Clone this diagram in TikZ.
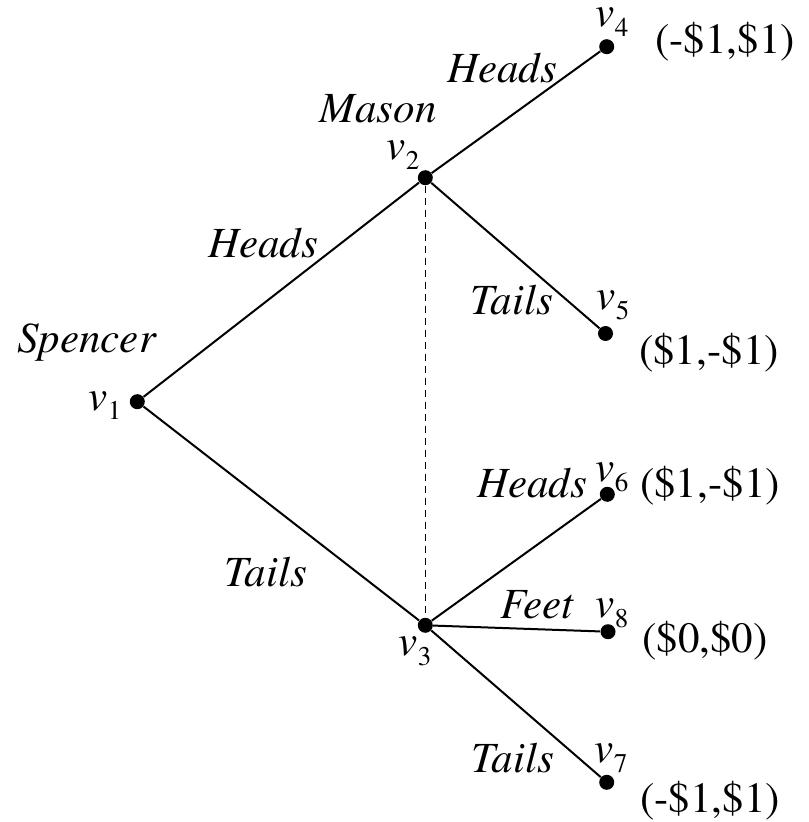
\documentclass[tikz,border=0pt]{standalone}
\usepackage[T1]{fontenc}
\usepackage{mathptmx}
\newcommand{\vsub}[1]{\textit{v}\raisebox{-5pt}{\fontsize{13.5}{14}\selectfont #1}}
\begin{document}
\begin{tikzpicture}[x=0.5pt,y=-0.5pt,
  dot/.style={circle,fill=black,inner sep=0pt,minimum size=7.5pt},
  edge/.style={line width=1pt},
  info/.style={line width=0.7pt,dash pattern=on 3.5pt off 2.5pt},
  lbl/.style={anchor=base,inner sep=0pt,font=\fontsize{21.5}{26}\selectfont}]
\useasboundingbox (0,0) rectangle (808,822);
% decision points and outcomes
\node[dot] (v1) at (137.3,401.7) {};
\node[dot] (v2) at (425.3,177.7) {};
\node[dot] (v3) at (425.3,625.3) {};
\node[dot] (v4) at (606.7,46.7) {};
\node[dot] (v5) at (605.5,333.5) {};
\node[dot] (v6) at (607.3,494.3) {};
\node[dot] (v8) at (608,631.7) {};
\node[dot] (v7) at (606.7,782.3) {};
% branches
\draw[edge] (v1) -- (v2);
\draw[edge] (v1) -- (v3);
\draw[edge] (v2) -- (v4);
\draw[edge] (v2) -- (v5);
\draw[edge] (v3) -- (v6);
\draw[edge] (v3) -- (v8);
\draw[edge] (v3) -- (v7);
\draw[info] (v2) -- (v3);
% player names
\node[lbl] (nSpencer) at (87,353) {\textit{Spencer}};
\node[lbl] (nMason) at (378,123) {\textit{Mason}};
% vertex labels
\node[lbl] (l1) at (105,410) {\vsub{1}};
\node[lbl] (l2) at (403,160) {\vsub{2}};
\node[lbl] (l3) at (415,655) {\vsub{3}};
\node[lbl] (l4) at (612,27) {\vsub{4}};
\node[lbl] (l5) at (613,310) {\vsub{5}};
\node[lbl] (l6) at (612,481) {\vsub{6}};
\node[lbl] (l8) at (612,617) {\vsub{8}};
\node[lbl] (l7) at (611,762) {\vsub{7}};
% action labels
\node[lbl] (aH1) at (263,258) {\textit{Heads}};
\node[lbl] (aT1) at (266,586) {\textit{Tails}};
\node[lbl] (aH2) at (502,83) {\textit{Heads}};
\node[lbl] (aT2) at (512,315) {\textit{Tails}};
\node[lbl] (aH3) at (532,497) {\textit{Heads}};
\node[lbl] (aF3) at (537,618) {\textit{Feet}};
\node[lbl] (aT3) at (513,772) {\textit{Tails}};
% payoffs
\node[lbl] (p4) at (725,54) {(-\$1,\$1)};
\node[lbl] (p5) at (709,365) {(\$1,-\$1)};
\node[lbl] (p6) at (710,497) {(\$1,-\$1)};
\node[lbl] (p8) at (705,652) {(\$0,\$0)};
\node[lbl] (p7) at (710,812) {(-\$1,\$1)};
\end{tikzpicture}
\end{document}
